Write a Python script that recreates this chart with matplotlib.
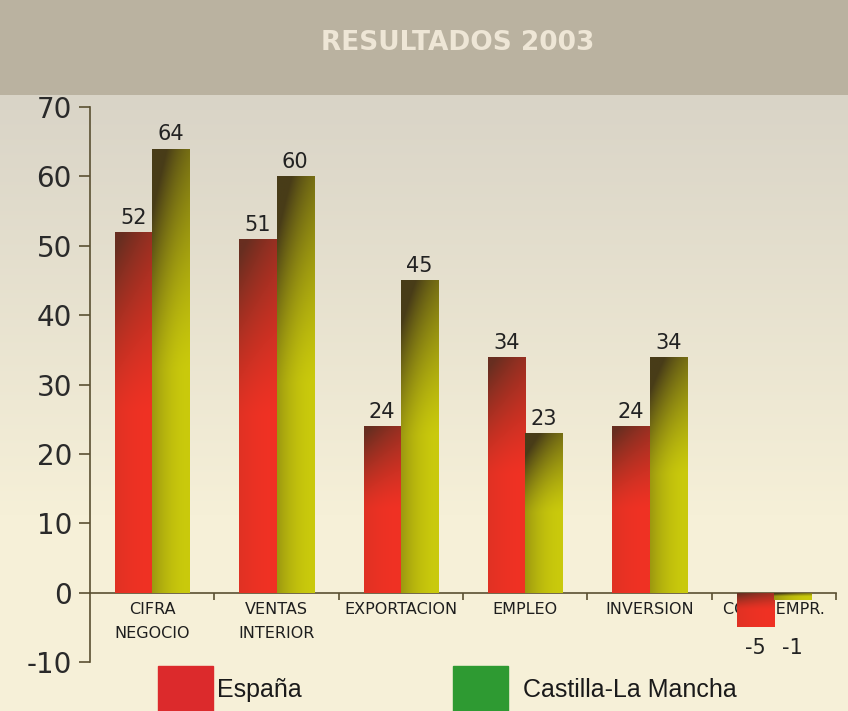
import numpy as np
import matplotlib
matplotlib.use("Agg")
import matplotlib.pyplot as plt
from matplotlib.patches import Rectangle

plt.rcParams["axes.unicode_minus"] = False

# datos
categorias = ["CIFRA\nNEGOCIO", "VENTAS\nINTERIOR", "EXPORTACION", "EMPLEO", "INVERSION", "CONF. EMPR."]
espana = [52, 51, 24, 34, 24, -5]
clm = [64, 60, 45, 23, 34, -1]
series_nombres = ["España", "Castilla-La Mancha"]

W, H = 848, 711
fig = plt.figure(figsize=(W / 100, H / 100), dpi=100)

# fondo: banda gris arriba, degradado a crema
bg = fig.add_axes([0, 0, 1, 1], zorder=-10)
rows = np.arange(H)[:, None]
top = np.array([186, 178, 160]) / 255.0
light = np.array([217, 212, 199]) / 255.0
cream = np.array([246, 240, 216]) / 255.0
t = np.clip((rows - 95) / 420.0, 0, 1)
img = light * (1 - t[..., None]) + cream * t[..., None]
img = np.repeat(img, W, axis=1)
img[:95] = top
bg.imshow(img, extent=[0, 1, 0, 1], aspect="auto", origin="upper")
bg.axis("off")

fig.text(458 / W, 1 - 43 / H, "RESULTADOS 2003", ha="center", va="center",
         fontsize=19, fontweight="bold", color="#eee6d6", family="DejaVu Sans")

ax = fig.add_axes([90 / W, 1 - 662 / H, 746 / W, (662 - 107) / H])
ax.patch.set_alpha(0)

x = np.arange(len(categorias))
bw = 0.3
b1 = ax.bar(x - bw / 2, espana, bw, color="#ee3526", zorder=2)
b2 = ax.bar(x + bw / 2, clm, bw, color="#c8c80a", zorder=2)


def degradado(bar, claro, oscuro, borde):
    x0, w = bar.get_x(), bar.get_width()
    y0, h = bar.get_y(), bar.get_height()
    ylo, yhi = min(y0, y0 + h), max(y0, y0 + h)
    yy = np.linspace(0, 1, 200)[:, None]
    xx = np.linspace(0, 1, 40)[None, :]
    d = np.clip((yy - 0.5) / 0.5, 0, 1) ** 1.3 * (1 - 0.35 * xx) + borde * (1 - xx) ** 2
    d = np.clip(d, 0, 1)[..., None]
    c = np.array(claro) / 255.0 * (1 - d) + np.array(oscuro) / 255.0 * d
    im = ax.imshow(c, extent=[x0, x0 + w, ylo, yhi], origin="lower",
                   aspect="auto", zorder=3, interpolation="bilinear")
    im.set_clip_path(bar)


for b in b1:
    degradado(b, (240, 50, 36), (104, 46, 32), 0.12)
for b in b2:
    degradado(b, (202, 202, 12), (72, 60, 24), 0.35)

for bars, vals in ((b1, espana), (b2, clm)):
    for b, v in zip(bars, vals):
        cx = b.get_x() + b.get_width() / 2
        if v >= 0:
            ax.annotate(str(v), (cx, v), xytext=(0, 3), textcoords="offset points",
                        ha="center", va="bottom", fontsize=15, color="#222222")
        else:
            ax.text(cx, -8, str(v), ha="center", va="center", fontsize=15, color="#222222")

ax.set_xlim(-0.5, len(categorias) - 0.5)
ax.set_ylim(-10, 70)

spine_c = "#5a5032"
for s in ("top", "right"):
    ax.spines[s].set_visible(False)
ax.spines["left"].set_color(spine_c)
ax.spines["bottom"].set_color(spine_c)
ax.spines["left"].set_linewidth(1.2)
ax.spines["bottom"].set_linewidth(1.2)
ax.spines["bottom"].set_position(("data", 0))

ax.set_yticks(np.arange(-10, 71, 10))
ax.tick_params(axis="y", length=8, width=1.2, color=spine_c, pad=5,
               labelsize=20, labelcolor="#2a2a2a")
ax.set_xticks(x)
ax.set_xticklabels(categorias, fontsize=11.5, color="#1e1e1e", linespacing=1.75)
ax.tick_params(axis="x", which="major", length=0, pad=7)
ax.set_xticks(np.arange(0.5, len(categorias), 1), minor=True)
ax.tick_params(axis="x", which="minor", length=5, width=1.2, color=spine_c)

# leyenda
fig.add_artist(Rectangle((158 / W, 0), 55 / W, 45 / H, transform=fig.transFigure,
                         color="#dc2a2c"))
fig.add_artist(Rectangle((453 / W, 0), 55 / W, 45 / H, transform=fig.transFigure,
                         color="#2e9a32"))
fig.text(217 / W, 1 - 690 / H, series_nombres[0], fontsize=18, va="center",
         family="Liberation Sans", color="#1a1a1a")
fig.text(523 / W, 1 - 690 / H, series_nombres[1], fontsize=18, va="center",
         family="Liberation Sans", color="#1a1a1a")

fig.savefig("out.png", dpi=100)
